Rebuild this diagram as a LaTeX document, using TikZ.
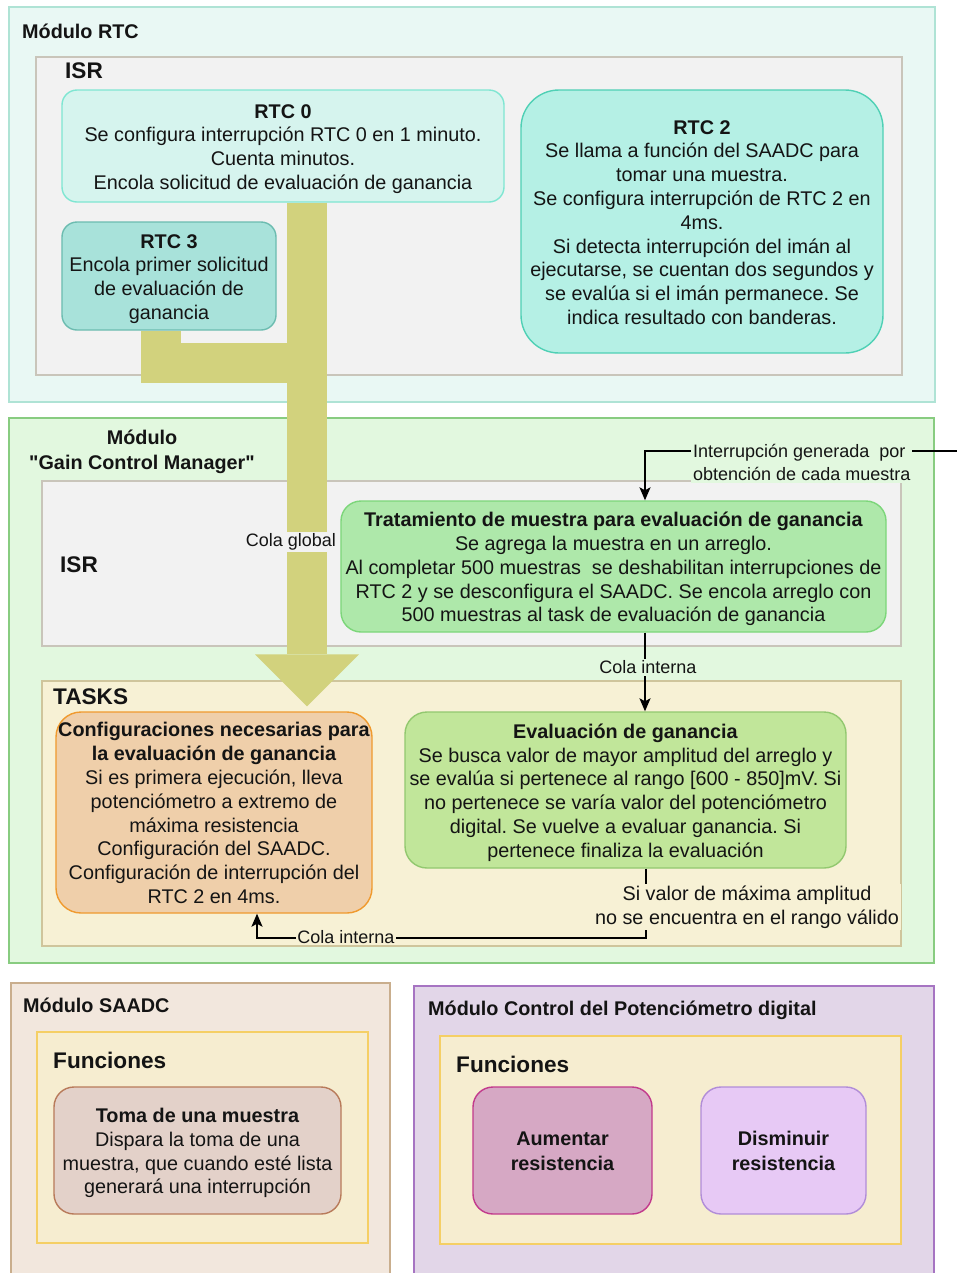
\documentclass[tikz,border=0pt]{standalone}
\usepackage{fontspec}
\setmainfont{Liberation Sans}
\usetikzlibrary{arrows.meta,calc}
\frenchspacing

\definecolor{rtcfill}{HTML}{E9F8F4}\definecolor{rtcline}{HTML}{AFE3D5}
\definecolor{isrfill}{HTML}{F2F2F2}\definecolor{isrline}{HTML}{C9C5BA}
\definecolor{rtcAfill}{HTML}{D6F4EE}\definecolor{rtcAline}{HTML}{7FE6D2}
\definecolor{rtcCfill}{HTML}{A8E2DA}\definecolor{rtcCline}{HTML}{6CBCB0}
\definecolor{rtcBfill}{HTML}{B5F0E5}\definecolor{rtcBline}{HTML}{4FD0B5}
\definecolor{gcmfill}{HTML}{E2F8DF}\definecolor{gcmline}{HTML}{88CC80}
\definecolor{tratfill}{HTML}{AEE8AA}\definecolor{tratline}{HTML}{7CD67A}
\definecolor{tasksfill}{HTML}{F7F1D5}\definecolor{tasksline}{HTML}{CFC59C}
\definecolor{conffill}{HTML}{EFCFAA}\definecolor{confline}{HTML}{F09A2E}
\definecolor{evalfill}{HTML}{C1E69A}\definecolor{evalline}{HTML}{92C86F}
\definecolor{saadcfill}{HTML}{F2E7DD}\definecolor{saadcline}{HTML}{C9AE8D}
\definecolor{funcfill}{HTML}{F6EDD0}\definecolor{funcline}{HTML}{F5CF65}
\definecolor{tomafill}{HTML}{E3D1C9}\definecolor{tomaline}{HTML}{B87A5A}
\definecolor{potfill}{HTML}{E2D6E8}\definecolor{potline}{HTML}{A674C2}
\definecolor{aumfill}{HTML}{D6A8C4}\definecolor{aumline}{HTML}{C23A8C}
\definecolor{disfill}{HTML}{E7C9F5}\definecolor{disline}{HTML}{B18DD8}
\definecolor{queue}{HTML}{D2D27D}
\definecolor{ink}{HTML}{141414}

% fixed top (first line) and bottom extent for the text block of every card
\newcommand\ts{\rule{0pt}{20.5bp}}
\newcommand\botstrut{\rule[-5bp]{0pt}{0pt}}

\begin{document}
\begin{tikzpicture}[x=1bp,y=-1bp,
  font=\fontsize{19.8bp}{23.8bp}\selectfont, text=ink,
  cont/.style={draw, line width=1.4bp, inner sep=0pt},
  card/.style={draw, line width=1.4bp, inner sep=0pt, align=center,
    execute at end node=\botstrut},
  title/.style={inner sep=0pt, anchor=west, font=\fontsize{19.8bp}{23.8bp}\selectfont\bfseries},
  bigtitle/.style={inner sep=0pt, anchor=west, font=\fontsize{22.6bp}{26bp}\selectfont\bfseries},
  arr/.style={draw=black, line width=1.6bp, -{Stealth[length=13bp,width=11bp,inset=3bp]}},
  small/.style={font=\fontsize{18bp}{23.4bp}\selectfont},
  bar/.style={draw=queue, line width=40bp, line join=miter},
]
\useasboundingbox (0,0) rectangle (957,1273);

% ---------- RTC module ----------
\node[cont, fill=rtcfill, draw=rtcline, minimum width=926bp, minimum height=395bp] (modrtc) at (472,204.5) {};
\node[title] (modrtcT) at (22,31) {Módulo RTC};
\node[cont, fill=isrfill, draw=isrline, minimum width=866bp, minimum height=318bp] (isrA) at (469,216) {};
\node[bigtitle] (isrAT) at (65,71) {ISR};

\node[card, fill=rtcAfill, draw=rtcAline, rounded corners=15bp, minimum width=442bp, minimum height=112bp] (rtc0) at (283,146)
  {\ts\textbf{RTC 0}\\Se configura interrupción RTC 0 en 1 minuto.\\Cuenta minutos.\\Encola solicitud de evaluación de ganancia};
\node[card, fill=rtcCfill, draw=rtcCline, rounded corners=15bp, minimum width=214bp, minimum height=108bp] (rtc3) at (169,276)
  {\ts\textbf{RTC 3}\\Encola primer solicitud\\de evaluación de\\ganancia};
\node[card, fill=rtcBfill, draw=rtcBline, rounded corners=38bp, minimum width=362bp, minimum height=263bp] (rtc2) at (702,221.5)
  {\ts\textbf{RTC 2}\\Se llama a función del SAADC para\\tomar una muestra.\\Se configura interrupción de RTC 2 en\\4ms.\\Si detecta interrupción del imán al\\ejecutarse, se cuentan dos segundos y\\se evalúa si el imán permanece. Se\\indica resultado con banderas.};

% ---------- Gain Control Manager module ----------
\node[cont, fill=gcmfill, draw=gcmline, minimum width=925bp, minimum height=545bp] (modgcm) at (471.5,690.5) {};
\node[inner sep=0pt, align=center, font=\fontsize{19.8bp}{25bp}\selectfont\bfseries] (modgcmT) at (142,451.5) {Módulo\\\textquotedbl Gain Control Manager\textquotedbl};
\node[cont, fill=isrfill, draw=isrline, minimum width=859bp, minimum height=165bp] (isrB) at (471.5,563.5) {};
\node[bigtitle] (isrBT) at (60,565) {ISR};
\node[cont, fill=tasksfill, draw=tasksline, minimum width=859bp, minimum height=265bp] (tasks) at (471.5,813.5) {};
\node[bigtitle] (tasksT) at (53,697) {TASKS};

\node[card, fill=tratfill, draw=tratline, rounded corners=20bp, minimum width=545bp, minimum height=131bp] (trat) at (613.5,566.5)
  {\ts\textbf{Tratamiento de muestra para evaluación de ganancia}\\Se agrega la muestra en un arreglo.\\Al completar 500 muestras\ \ se deshabilitan interrupciones de\\RTC 2 y se desconfigura el SAADC. Se encola arreglo con\\500 muestras al task de evaluación de ganancia};
\node[card, fill=conffill, draw=confline, rounded corners=25bp, minimum width=316bp, minimum height=201bp] (conf) at (214,812.5)
  {\ts\textbf{Configuraciones necesarias para}\\\textbf{la evaluación de ganancia}\\Si es primera ejecución, lleva\\potenciómetro a extremo de\\máxima resistencia\\Configuración del SAADC.\\Configuración de interrupción del\\RTC 2 en 4ms.};
\node[card, fill=evalfill, draw=evalline, rounded corners=22bp, minimum width=441bp, minimum height=156bp] (eval) at (625.5,790)
  {\ts\textbf{Evaluación de ganancia}\\Se busca valor de mayor amplitud del arreglo y\\se evalúa si pertenece al rango [600 - 850]mV. Si\\no pertenece se varía valor del potenciómetro\\digital. Se vuelve a evaluar ganancia. Si\\pertenece finaliza la evaluación};

% global queue: thick band from RTC 0 and RTC 3 down to the task
\coordinate (gq) at ($(rtc0.south)+(24,0)$);
\coordinate (gqtip) at ($(gq |- conf.north)+(0,-5)$);
\coordinate (r3) at ($(rtc3.south)+(-8,0)$);
\draw[bar] (r3) |- ($(gq)+(0,160)$);
\draw[bar] (gq) -- ($(gqtip)+(0,-52)$);
\fill[queue] ($(gqtip)+(-52,-52)$) -- ($(gqtip)+(52,-52)$) -- (gqtip) -- cycle;
\node[small, fill=isrfill, inner sep=1.5bp] (gqlbl) at (291,542) {Cola global};

% interrupt from each sample
\coordinate (isrc) at (957,451);
\coordinate (tin) at ($(trat.north)+(31.5,0)$);
\draw[arr] (isrc) -- (isrc -| tin) -- (tin);
\node[small, fill=gcmfill, inner sep=2bp, align=left, anchor=west] (isrclbl) at (691,462.5) {Interrupción generada\ \ por\\obtención de cada muestra};

% internal queue ISR -> task
\draw[arr] ($(trat.south)+(31.5,0)$) -- ($(eval.north)+(19.5,0)$);
\node[small, fill=gcmfill, inner sep=1.5bp] (iq1) at (648,667.5) {Cola interna};

% re-evaluation loop
\coordinate (eo) at ($(eval.south)+(20.5,0)$);
\coordinate (ci) at ($(conf.south)+(43,0)$);
\draw[arr] (eo) -- ($(eo)+(0,69)$) -| (ci);
\node[fill=tasksfill, inner sep=2bp, align=center] (looplbl) at (747,907) {Si valor de máxima amplitud\\no se encuentra en el rango válido};
\node[small, fill=tasksfill, inner sep=1.5bp] (iq2) at (346,937) {Cola interna};

% ---------- SAADC module ----------
\node[cont, fill=saadcfill, draw=saadcline, minimum width=379bp, minimum height=310bp] (modsaadc) at (200.5,1138) {};
\node[title] (modsaadcT) at (23,1005) {Módulo SAADC};
\node[cont, fill=funcfill, draw=funcline, minimum width=331bp, minimum height=211bp] (funcA) at (202.5,1137.5) {};
\node[bigtitle] (funcAT) at (53,1060) {Funciones};
\node[card, fill=tomafill, draw=tomaline, rounded corners=20bp, minimum width=287bp, minimum height=127bp] (toma) at (197.5,1150.5)
  {\ts\textbf{Toma de una muestra}\\Dispara la toma de una\\muestra, que cuando esté lista\\generará una interrupción};

% ---------- digital potentiometer module ----------
\node[cont, fill=potfill, draw=potline, minimum width=520bp, minimum height=310bp] (modpot) at (674,1141) {};
\node[title] (modpotT) at (428,1010) {Módulo Control del Potenciómetro digital};
\node[cont, fill=funcfill, draw=funcline, minimum width=461bp, minimum height=208bp] (funcB) at (670.5,1140) {};
\node[bigtitle] (funcBT) at (456,1064) {Funciones};
\node[card, fill=aumfill, draw=aumline, rounded corners=20bp, minimum width=179bp, minimum height=127bp, font=\fontsize{19.8bp}{25bp}\selectfont\bfseries] (aum) at (562.5,1150.5) {\ts Aumentar\\resistencia};
\node[card, fill=disfill, draw=disline, rounded corners=20bp, minimum width=165bp, minimum height=127bp, font=\fontsize{19.8bp}{25bp}\selectfont\bfseries] (dis) at (783.5,1150.5) {\ts Disminuir\\resistencia};
\end{tikzpicture}
\end{document}
